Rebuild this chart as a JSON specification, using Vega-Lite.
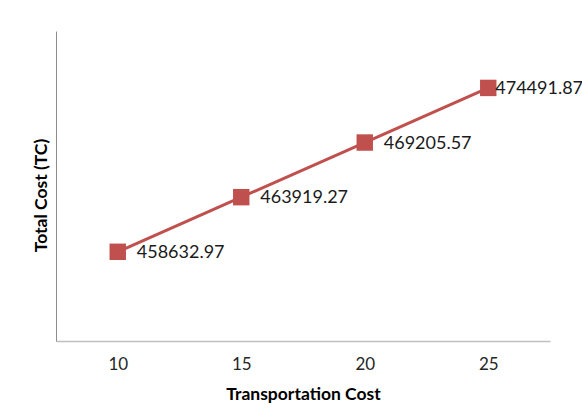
{
  "$schema": "https://vega.github.io/schema/vega-lite/v6.json",
  "autosize": "none",
  "width": 494,
  "height": 310,
  "padding": {"left": 56, "top": 31, "right": 32, "bottom": 68},
  "background": "white",
  "config": {"view": {"stroke": null}, "font": "Lato"},
  "data": {"values": [
    {"tc": "10", "cost": 458632.97, "label": "458632.97"},
    {"tc": "15", "cost": 463919.27, "label": "463919.27"},
    {"tc": "20", "cost": 469205.57, "label": "469205.57"},
    {"tc": "25", "cost": 474491.87, "label": "474491.87"}
  ]},
  "encoding": {
    "x": {"field": "tc", "type": "ordinal", "sort": null,
      "scale": {"type": "point", "padding": 0.5},
      "axis": {"title": "Transportation  Cost", "titleFont": "Lato", "titleFontSize": 17.5, "titleFontWeight": "bold", "titleColor": "#000", "titlePadding": 13,
        "labelAngle": 0, "labelFontSize": 17, "labelColor": "#262626", "labelPadding": 15, "ticks": false,
        "domainColor": "#bfbfbf", "domainWidth": 1.5}},
    "y": {"field": "cost", "type": "quantitative",
      "scale": {"domain": [450000, 480000], "nice": false, "zero": false},
      "axis": {"title": "Total Cost (TC)", "titleFont": "Lato", "titleFontSize": 17.5, "titleFontWeight": "bold", "titleColor": "#000", "titlePadding": 6, "titleY": 164,
        "labels": false, "ticks": false, "grid": false, "domainColor": "#8c8c8c", "domainWidth": 1}}
  },
  "layer": [
    {"mark": {"type": "line", "color": "#C0504D", "strokeWidth": 3}},
    {"mark": {"type": "point", "shape": "square", "filled": true, "opacity": 1, "color": "#C0504D", "size": 270}},
    {"transform": [{"filter": "datum.tc != '25'"}],
      "mark": {"type": "text", "align": "left", "baseline": "middle", "dx": 19, "dy": 1, "fontSize": 18, "color": "#1a1a1a", "font": "Lato"},
      "encoding": {"text": {"field": "label"}}},
    {"transform": [{"filter": "datum.tc == '25'"}],
      "mark": {"type": "text", "align": "left", "baseline": "middle", "dx": 7, "dy": 1, "fontSize": 18, "color": "#1a1a1a", "font": "Lato"},
      "encoding": {"text": {"field": "label"}}}
  ]
}
